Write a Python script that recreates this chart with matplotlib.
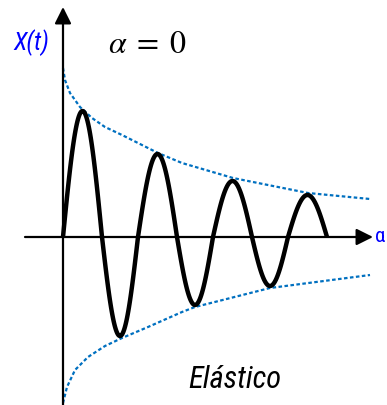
import numpy as np
import matplotlib.pyplot as plt

# Cruzamentos com o eixo e amplitude de cada meia oscilação
crossings = [0.0, 3.9, 7.5, 11.4, 15.0, 18.9, 22.5, 26.4]
amplitudes = [12.6, -9.9, 8.3, -6.8, 5.6, -4.9, 4.2]

# Envoltórias (pontos ao longo das curvas tracejadas)
env_up_t = [0.0, 0.2, 0.7, 1.7, 2.9, 4.2, 5.9, 7.5, 9.5, 11.9, 17.0, 24.5, 30.7]
env_up_x = [16.9, 15.7, 14.4, 13.0, 11.9, 11.0, 10.2, 9.4, 8.4, 7.4, 5.9, 4.4, 3.8]
env_lo_t = [0.0, 0.4, 1.2, 2.5, 4.2, 5.9, 8.5, 11.9, 13.2, 20.7, 30.7]
env_lo_x = [-16.6, -15.0, -13.3, -12.0, -10.9, -10.1, -9.0, -7.5, -7.0, -5.1, -3.8]

BLUE_DASH = '#0070C0'
NARROW = ['Roboto Condensed', 'Archivo Narrow', 'Liberation Sans']

plt.rcParams['mathtext.fontset'] = 'stix'

fig = plt.figure(figsize=(3.87, 4.05), dpi=100)
ax = fig.add_axes([0, 0, 1, 1])
ax.set_xlim(-6.3, 32.4)
ax.set_ylim(-16.8, 23.7)
ax.axis('off')

# Eixos com setas
arrow = dict(arrowstyle='-|>', lw=1.6, color='black', mutation_scale=25, shrinkA=0, shrinkB=0)
ax.annotate('', xy=(0, 23.0), xytext=(0, -16.8), arrowprops=arrow)
ax.annotate('', xy=(31.0, 0), xytext=(-3.8, 0), arrowprops=arrow)

# Oscilação: uma meia senoide por intervalo entre cruzamentos
for t0, t1, a in zip(crossings[:-1], crossings[1:], amplitudes):
    tt = np.linspace(t0, t1, 60)
    ax.plot(tt, a * np.sin(np.pi * (tt - t0) / (t1 - t0)), color='black', lw=3.2,
            solid_capstyle='butt', zorder=3)

# Envoltórias tracejadas
ax.plot(env_up_t, env_up_x, color=BLUE_DASH, lw=1.6, dashes=(1.6, 1.1), zorder=2)
ax.plot(env_lo_t, env_lo_x, color=BLUE_DASH, lw=1.6, dashes=(1.6, 1.1), zorder=2)

# Textos
ax.text(-3.2, 19.4, 'X(t)', color='blue', style='italic', family=NARROW,
        fontsize=18, ha='center', va='center')
ax.text(31.2, 0, 'α', color='blue', family=NARROW, fontsize=15, ha='left', va='center')
ax.text(4.5, 18.4, r'$\alpha\;=\;0$', fontsize=23, ha='left', va='baseline')
ax.text(12.5, -15.1, 'Elástico', style='italic', family=NARROW, fontsize=22,
        ha='left', va='baseline')

fig.savefig('out.png', dpi=100)
